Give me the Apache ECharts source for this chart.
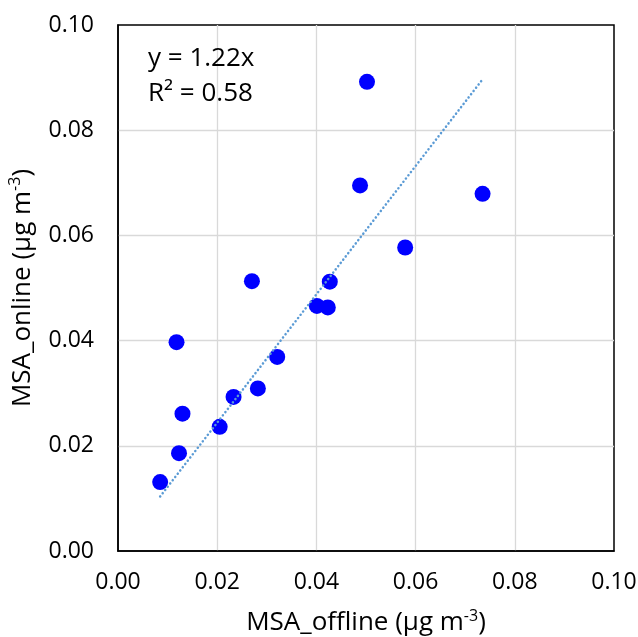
<!DOCTYPE html>
<html>
<head>
<meta charset="utf-8">
<script src="https://cdn.jsdelivr.net/npm/echarts@6/dist/echarts.min.js"></script>
<style>
  html, body { margin: 0; padding: 0; background: #fff; }
  #chart { width: 638px; height: 637px; }
</style>
</head>
<body>
<div id="chart"></div>
<script>
// MSA concentrations: offline filter samples vs. online measurements (µg m-3)
const msaOffline = [0.0085, 0.0123, 0.0130, 0.0118, 0.0205, 0.0233, 0.0282, 0.0321,
                    0.0270, 0.0401, 0.0423, 0.0427, 0.0488, 0.0502, 0.0579, 0.0735];
const msaOnline  = [0.0131, 0.0186, 0.0261, 0.0397, 0.0236, 0.0293, 0.0309, 0.0369,
                    0.0513, 0.0466, 0.0463, 0.0512, 0.0695, 0.0892, 0.0577, 0.0679];

// Linear fit through the origin
const fitSlope = 1.22;
const fitR2 = 0.58;
const axisTicks = [0.00, 0.02, 0.04, 0.06, 0.08, 0.10];

const points = msaOffline.map((x, i) => [x, msaOnline[i]]);
const xMin = Math.min(...msaOffline);
const xMax = Math.max(...msaOffline);
const fitLine = [[xMin, fitSlope * xMin], [xMax, fitSlope * xMax]];

const FONT = 'Open Sans';
const textColor = '#000';

const chart = echarts.init(document.getElementById('chart'), null, { renderer: 'canvas' });

const axisCommon = {
  type: 'value',
  min: axisTicks[0],
  max: axisTicks[axisTicks.length - 1],
  interval: 0.02,
  nameLocation: 'middle',
  axisLine: { show: true, lineStyle: { color: '#000', width: 1.5 } },
  axisTick: { show: false },
  splitLine: { show: true, showMinLine: false, showMaxLine: false,
               lineStyle: { color: '#D9D9D9', width: 1.3 } },
  axisLabel: {
    color: textColor, fontFamily: FONT, fontSize: 23,
    formatter: v => v.toFixed(2)
  },
  nameTextStyle: {
    color: textColor, fontFamily: FONT, fontSize: 26, lineHeight: 30,
    rich: {
      sup: { fontFamily: FONT, fontSize: 16, color: textColor, verticalAlign: 'top', lineHeight: 30 }
    }
  }
};

chart.setOption({
  animation: false,
  backgroundColor: '#fff',
  grid: {
    left: 118, right: 24, top: 25, bottom: 86,
    containLabel: false,
    outerBoundsMode: 'none',
    show: true, borderColor: '#000', borderWidth: 1.5, backgroundColor: 'transparent'
  },
  xAxis: Object.assign({}, axisCommon, {
    name: 'MSA_offline (µg m{sup|-3})',
    nameGap: 57,
    axisLabel: Object.assign({}, axisCommon.axisLabel, { margin: 20 })
  }),
  yAxis: Object.assign({}, axisCommon, {
    name: 'MSA_online (µg m{sup|-3})',
    nameGap: 78,
    axisLabel: Object.assign({}, axisCommon.axisLabel, { margin: 24 })
  }),
  graphic: [{
    type: 'text',
    left: 148, top: 41,
    style: {
      text: 'y = ' + fitSlope.toFixed(2) + 'x\nR² = ' + fitR2.toFixed(2),
      fontFamily: FONT, fontSize: 26, lineHeight: 35, fill: textColor
    },
    z: 10
  }],
  series: [
    {
      type: 'line',
      data: fitLine,
      symbol: 'none',
      lineStyle: { color: '#5B9BD5', width: 2.5, type: [0.1, 4], cap: 'round' },
      z: 3,
      silent: true
    },
    {
      type: 'scatter',
      data: points,
      symbol: 'circle',
      symbolSize: 16,
      itemStyle: { color: '#0000FF', opacity: 1 },
      z: 2
    }
  ]
});
</script>
</body>
</html>
